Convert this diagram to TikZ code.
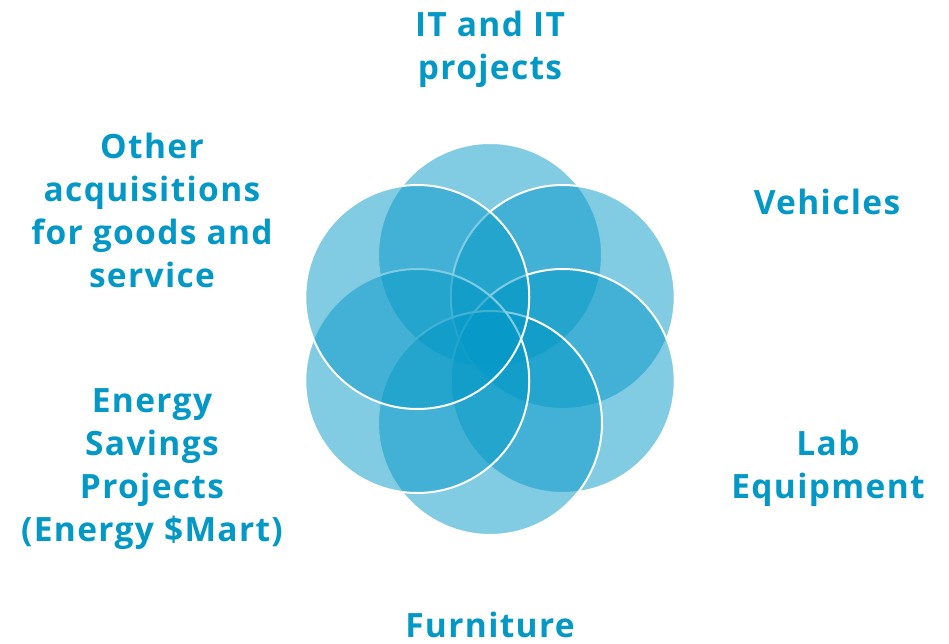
\documentclass[tikz,border=0pt]{standalone}
\usepackage{fontspec}
\setmainfont{Open Sans}[LetterSpace=4]
\usepackage{tikz}
\usetikzlibrary{positioning}
\usetikzlibrary{calc}
\definecolor{petalblue}{RGB}{4,152,199}
\tikzset{petal/.style={circle, draw=white, line width=2pt, fill=petalblue, fill opacity=0.5, minimum size=224pt, inner sep=0pt}}
\tikzset{lbl/.style={align=center, anchor=base, text=petalblue, font=\fontsize{33.5}{43}\selectfont\bfseries}}

\begin{document}
\begin{tikzpicture}[x=1pt, y=1pt]
\useasboundingbox (0,0) rectangle (949,643);
\coordinate (hub) at (490,304);

% petals, drawn in the same order as the labels go round
\node[petal] (it) at ($(hub)+(90:84)$) {};
\node[petal] (veh) at ($(hub)+(30:84)$) {};
\node[petal] (lab) at ($(hub)+(-30:84)$) {};
\node[petal] (furn) at ($(hub)+(-90:84)$) {};
\node[petal] (energy) at ($(hub)+(210:84)$) {};
\node[petal] (other) at ($(hub)+(150:84)$) {};

% labels (anchored on the baseline of their last line)
\node[lbl] (itlbl) at (490,563) {IT and IT\\projects};
\node[lbl] (vehlbl) at (827,428) {Vehicles};
\node[lbl] (lablbl) at (828,145) {Lab\\Equipment};
\node[lbl] (furnlbl) at (490,6) {Furniture};
\node[lbl] (energylbl) at (152,102) {Energy\\Savings\\Projects\\(Energy \$Mart)};
\node[lbl] (otherlbl) at (152,355) {Other\\acquisitions\\for goods and\\service};
\end{tikzpicture}
\end{document}
